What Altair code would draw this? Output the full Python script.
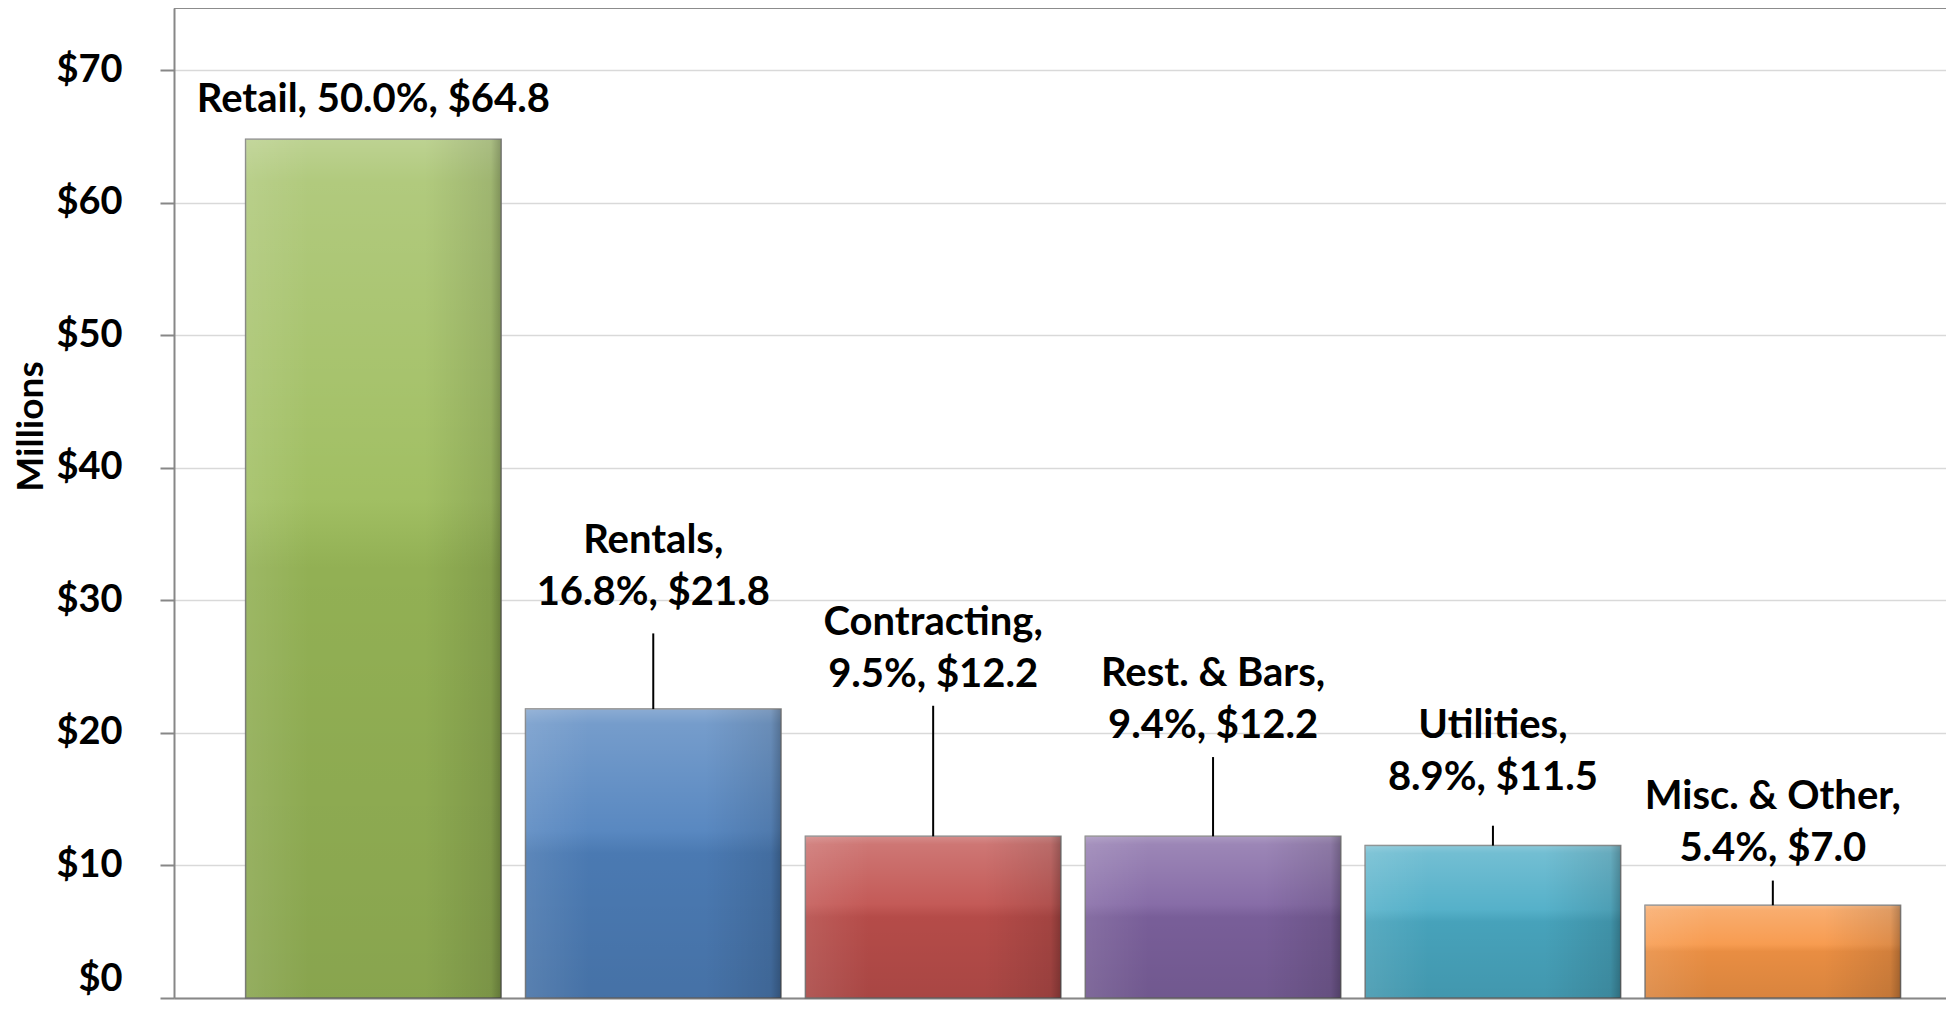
import altair as alt
import pandas as pd

# ---- data ----
categories = ["Retail", "Rentals", "Contracting", "Rest. & Bars", "Utilities", "Misc. & Other"]
values = [64.8, 21.8, 12.2, 12.2, 11.5, 7.0]          # $ millions
shares = [50.0, 16.8, 9.5, 9.4, 8.9, 5.4]             # percent of total
colors = ["#9BBB59", "#4F81BD", "#C0504D", "#8064A2", "#4BACC6", "#F79646"]
y_ticks = [0, 10, 20, 30, 40, 50, 60, 70]

# ---- label layout (axis units), as placed in the reference ----
one_line = [True, False, False, False, False, False]
label_line_y = [67.74, 30.53, 24.40, 20.54, 16.58, 11.21]
leader_top_y = [None, 27.51, 22.05, 18.18, 13.0, 8.86]

line1, line2 = [], []
for c, v, s, single in zip(categories, values, shares, one_line):
    if single:
        line1.append("")
        line2.append(f"{c}, {s:.1f}%, ${v:.1f}")
    else:
        line1.append(f"{c},")
        line2.append(f"{s:.1f}%, ${v:.1f}")

df = pd.DataFrame({
    "cat": categories,
    "value": values,
    "line1": line1,
    "line2": line2,
    "label_y": label_line_y,
    "leader_top": leader_top_y,
})

W, H = 1772, 990
FONT = "Lato"

x_enc = alt.X("cat:N", sort=categories,
              scale=alt.Scale(paddingInner=0.087, paddingOuter=0.209, align=0.612),
              axis=alt.Axis(title="", labels=False, ticks=False, grid=False,
                            domainColor="#878787", domainWidth=2))
y_scale = alt.Scale(domain=[0, 74.7], nice=False, zero=True)
y_enc = alt.Y("value:Q", scale=y_scale,
              axis=alt.Axis(values=y_ticks, labelExpr="'$' + datum.value",
                            grid=True, gridColor="#d9d9d9", gridWidth=1.5,
                            domainColor="#878787", domainWidth=2,
                            tickColor="#878787", tickSize=14, tickWidth=2,
                            labelFont=FONT, labelFontWeight="bold", labelFontSize=38,
                            labelColor="#000000", labelPadding=38, labelFlush=True,
                            title="Millions", titleFont=FONT, titleFontWeight="bold",
                            titleFontSize=37, titleColor="#000000", titleAngle=270,
                            titleX=-143, titleY=418, titleAlign="center",
                            titleBaseline="middle"))

base = alt.Chart(df)

bars = base.mark_bar(stroke="#6a6a6a", strokeWidth=1.5, strokeOpacity=0.85).encode(
    x=x_enc,
    y=y_enc,
    color=alt.Color("cat:N", scale=alt.Scale(domain=categories, range=colors), legend=None),
)

vgrad = {
    "gradient": "linear", "x1": 0, "x2": 0, "y1": 0, "y2": 1,
    "stops": [
        {"offset": 0.0, "color": "rgba(255,255,255,0.34)"},
        {"offset": 0.05, "color": "rgba(255,255,255,0.22)"},
        {"offset": 0.42, "color": "rgba(255,255,255,0.06)"},
        {"offset": 0.50, "color": "rgba(0,0,0,0.06)"},
        {"offset": 1.0, "color": "rgba(0,0,0,0.12)"},
    ],
}
hgrad = {
    "gradient": "linear", "x1": 0, "x2": 1, "y1": 0, "y2": 0,
    "stops": [
        {"offset": 0.0, "color": "rgba(255,255,255,0.10)"},
        {"offset": 0.25, "color": "rgba(255,255,255,0.0)"},
        {"offset": 0.70, "color": "rgba(0,0,0,0.0)"},
        {"offset": 0.96, "color": "rgba(0,0,0,0.10)"},
        {"offset": 1.0, "color": "rgba(0,0,0,0.28)"},
    ],
}
shade_v = base.mark_bar(color=vgrad).encode(x=alt.X("cat:N", sort=categories), y="value:Q")
shade_h = base.mark_bar(color=hgrad).encode(x=alt.X("cat:N", sort=categories), y="value:Q")

leaders = base.transform_filter("isValid(datum.leader_top)").mark_rule(
    color="#000000", strokeWidth=2
).encode(x=alt.X("cat:N", sort=categories), y="value:Q", y2="leader_top:Q")

txt2 = base.mark_text(font=FONT, fontWeight="bold", fontSize=40, color="#000000",
                      baseline="middle", align="center").encode(
    x=alt.X("cat:N", sort=categories), y=alt.Y("label_y:Q"), text="line2:N")
txt1 = base.transform_filter("datum.line1 != ''").mark_text(
    font=FONT, fontWeight="bold", fontSize=40, color="#000000",
    baseline="middle", align="center", dy=-52).encode(
    x=alt.X("cat:N", sort=categories), y=alt.Y("label_y:Q"), text="line1:N")

top_border = base.mark_rule(color="#8c8c8c", strokeWidth=2).encode(
    x=alt.value(0), x2=alt.value(W), y=alt.value(0))

chart = alt.layer(bars, shade_v, shade_h, leaders, txt2, txt1, top_border).properties(
    width=W, height=H,
    autosize=alt.AutoSizeParams(type="none"),
    padding={"left": 166, "top": 0, "right": 0, "bottom": 5},
).configure_view(fill="#f0f0f0", stroke="transparent").configure(background="#ffffff")

chart.save("out.html", embed_options={"renderer": "svg", "actions": False})
